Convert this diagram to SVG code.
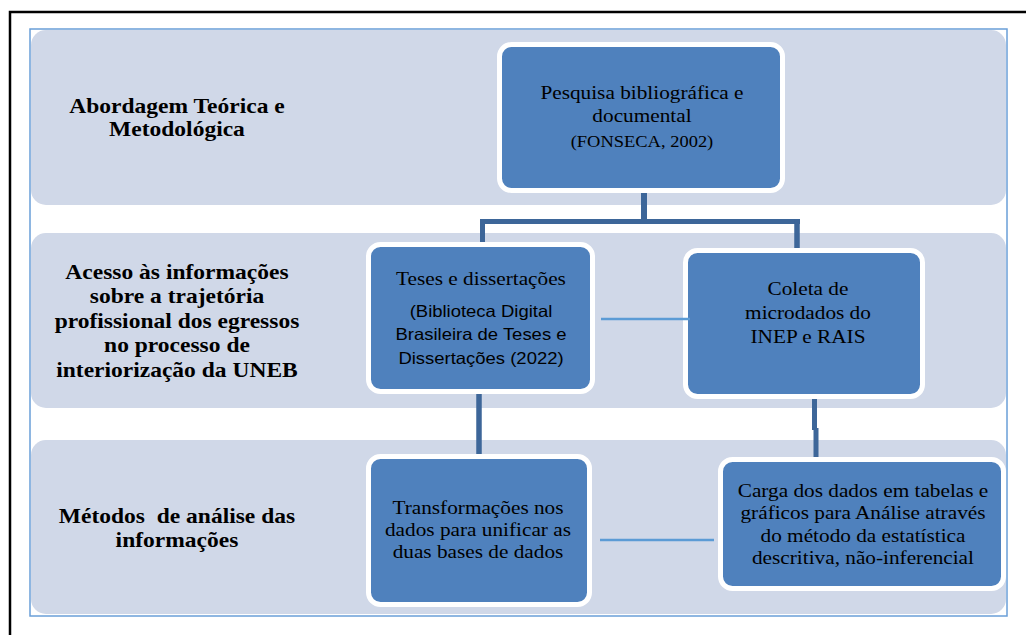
<svg xmlns="http://www.w3.org/2000/svg" width="1026" height="635" viewBox="0 0 1026 635">
<style>
.band{fill:#d0d8e8}
.node rect{fill:#4f81bd;stroke:#ffffff;stroke-width:5}
.lbl{font-family:"Liberation Serif","Times New Roman",serif;font-weight:bold;font-size:21px;fill:#000;text-anchor:middle}
.tx{font-family:"Liberation Serif","Times New Roman",serif;font-size:19px;fill:#000;text-anchor:middle}
.sm{font-size:16.5px}
.sans{font-family:"Liberation Sans",Arial,sans-serif;font-size:16.5px;fill:#000;text-anchor:middle}
text{transform-box:fill-box;transform-origin:center;transform:scaleX(1.12)}
.thick{stroke:#3d6699;fill:none}
.thin{stroke:#5b9bd5;stroke-width:2.5;fill:none}
</style>
<rect x="0" y="0" width="1026" height="635" fill="#ffffff"/>
<rect x="10" y="12" width="1025" height="630" fill="none" stroke="#000" stroke-width="2.5"/>
<g id="bands">
<rect class="band" x="31" y="30" width="975" height="175" rx="15"/>
<rect class="band" x="31" y="233" width="975" height="175" rx="15"/>
<rect class="band" x="31" y="440" width="975" height="174" rx="15"/>
</g>
<rect x="30" y="29" width="977" height="587" fill="none" stroke="#6a9fd8" stroke-width="1.5"/>
<g id="labels">
<text class="lbl" x="177" y="113">Abordagem Teórica e</text>
<text class="lbl" x="177" y="136">Metodológica</text>
<text class="lbl" x="177" y="279">Acesso às informações</text>
<text class="lbl" x="177" y="303.5">sobre a trajetória</text>
<text class="lbl" x="177" y="328">profissional dos egressos</text>
<text class="lbl" x="177" y="352.5">no processo de</text>
<text class="lbl" x="177" y="377">interiorização da UNEB</text>
<text class="lbl" x="177" y="523" xml:space="preserve">Métodos  de análise das</text>
<text class="lbl" x="177" y="547">informações</text>
</g>
<g id="node-pesquisa" class="node">
<rect x="499.5" y="44.5" width="283" height="146" rx="12"/>
<text class="tx" x="642" y="99.5">Pesquisa bibliográfica e</text>
<text class="tx" x="642" y="122">documental</text>
<text class="tx sm" x="642" y="147.5">(FONSECA, 2002)</text>
</g>
<g id="node-teses" class="node">
<rect x="368.5" y="244.5" width="224" height="147" rx="12"/>
<text class="tx" x="481" y="285">Teses e dissertações</text>
<text class="sans" x="481" y="317">(Biblioteca Digital</text>
<text class="sans" x="481" y="340.5">Brasileira de Teses e</text>
<text class="sans" x="481" y="364">Dissertações (2022)</text>
</g>
<g id="node-coleta" class="node">
<rect x="685.5" y="250.5" width="237" height="146" rx="12"/>
<text class="tx" x="808" y="295">Coleta de</text>
<text class="tx" x="808" y="319">microdados do</text>
<text class="tx" x="808" y="343.5">INEP e RAIS</text>
</g>
<g id="node-transformacoes" class="node">
<rect x="368.5" y="456.5" width="221" height="148" rx="12"/>
<text class="tx" x="478" y="514">Transformações nos</text>
<text class="tx" x="478" y="536.5">dados para unificar as</text>
<text class="tx" x="478" y="558.5">duas bases de dados</text>
</g>
<g id="node-carga" class="node">
<rect x="720.5" y="459.5" width="283" height="129" rx="12"/>
<text class="tx" x="863" y="497">Carga dos dados em tabelas e</text>
<text class="tx" x="863" y="519.5">gráficos para Análise através</text>
<text class="tx" x="863" y="542">do método da estatística</text>
<text class="tx" x="863" y="564">descritiva, não-inferencial</text>
</g>
<g id="connectors">
<line class="thick" x1="644" y1="193" x2="644" y2="222" stroke-width="6"/>
<line class="thick" x1="480" y1="221.5" x2="800" y2="221.5" stroke-width="5"/>
<line class="thick" x1="482.5" y1="219" x2="482.5" y2="242" stroke-width="5"/>
<line class="thick" x1="797" y1="219" x2="797" y2="248" stroke-width="5.5"/>
<line class="thick" x1="479" y1="394" x2="479" y2="454" stroke-width="5.5"/>
<line class="thick" x1="814.5" y1="399" x2="814.5" y2="430" stroke-width="5"/>
<line class="thick" x1="816" y1="428" x2="816" y2="457" stroke-width="5"/>
<line class="thin" x1="601" y1="319" x2="690" y2="319"/>
<line class="thin" x1="600" y1="540" x2="714" y2="540"/>
</g>
</svg>
